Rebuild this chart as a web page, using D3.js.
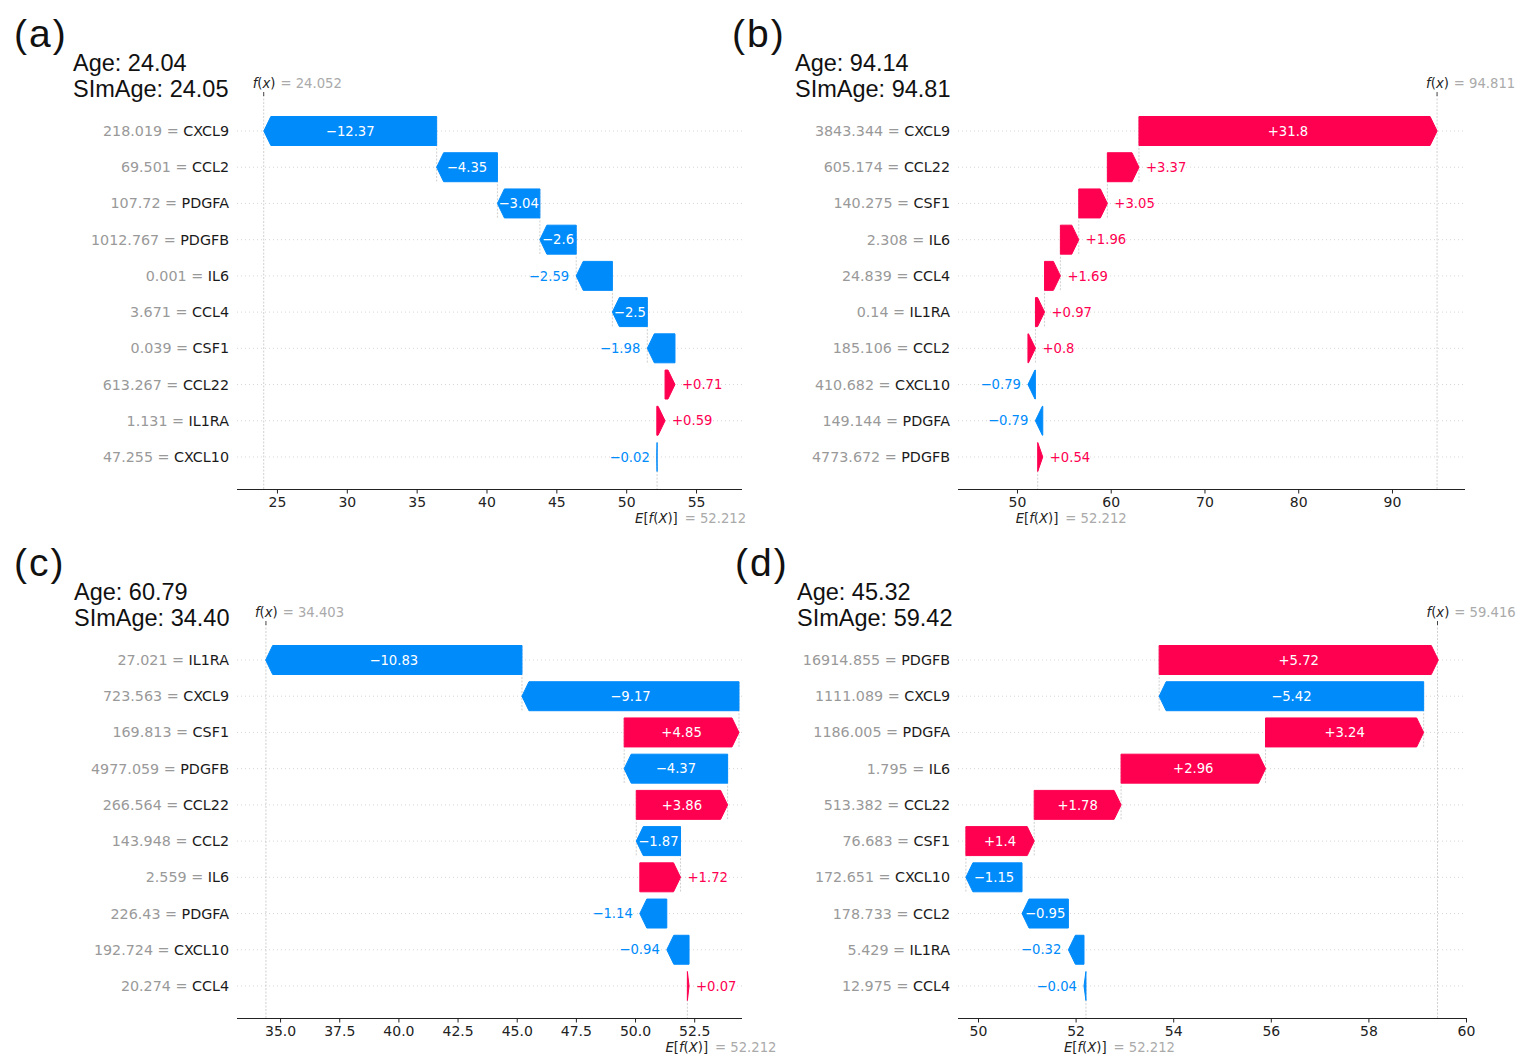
<!DOCTYPE html>
<html>
<head>
<meta charset="utf-8">
<script src="https://cdn.jsdelivr.net/npm/d3@7"></script>
<style>
  html, body { margin: 0; padding: 0; background: #fff; }
  svg { display: block; }
  .mono { font-family: "DejaVu Sans", sans-serif; }
  .title { font-family: "Liberation Sans", Arial, sans-serif; }
</style>
</head>
<body>
<svg id="chart" width="1517" height="1054"></svg>
<script>
// ---- data -------------------------------------------------------------
const baseValue = 52.212;

const panelLetters = ["(a)", "(b)", "(c)", "(d)"];
const ageLabels    = ["24.04", "94.14", "60.79", "45.32"];
const simAgeLabels = ["24.05", "94.81", "34.40", "59.42"];
const fxValues     = [24.052, 94.811, 34.403, 59.416];

// features listed top to bottom
const featuresA  = ["CXCL9", "CCL2", "PDGFA", "PDGFB", "IL6", "CCL4", "CSF1", "CCL22", "IL1RA", "CXCL10"];
const featValsA  = [218.019, 69.501, 107.72, 1012.767, 0.001, 3.671, 0.039, 613.267, 1.131, 47.255];
const shapA      = [-12.37, -4.35, -3.04, -2.6, -2.59, -2.5, -1.98, 0.71, 0.59, -0.02];

const featuresB  = ["CXCL9", "CCL22", "CSF1", "IL6", "CCL4", "IL1RA", "CCL2", "CXCL10", "PDGFA", "PDGFB"];
const featValsB  = [3843.344, 605.174, 140.275, 2.308, 24.839, 0.14, 185.106, 410.682, 149.144, 4773.672];
const shapB      = [31.8, 3.37, 3.05, 1.96, 1.69, 0.97, 0.8, -0.79, -0.79, 0.54];

const featuresC  = ["IL1RA", "CXCL9", "CSF1", "PDGFB", "CCL22", "CCL2", "IL6", "PDGFA", "CXCL10", "CCL4"];
const featValsC  = [27.021, 723.563, 169.813, 4977.059, 266.564, 143.948, 2.559, 226.43, 192.724, 20.274];
const shapC      = [-10.83, -9.17, 4.85, -4.37, 3.86, -1.87, 1.72, -1.14, -0.94, 0.07];

const featuresD  = ["PDGFB", "CXCL9", "PDGFA", "IL6", "CCL22", "CSF1", "CXCL10", "CCL2", "IL1RA", "CCL4"];
const featValsD  = [16914.855, 1111.089, 1186.005, 1.795, 513.382, 76.683, 172.651, 178.733, 5.429, 12.975];
const shapD      = [5.72, -5.42, 3.24, 2.96, 1.78, 1.4, -1.15, -0.95, -0.32, -0.04];

const ticksA = [25, 30, 35, 40, 45, 50, 55];
const ticksB = [50, 60, 70, 80, 90];
const ticksC = [35.0, 37.5, 40.0, 42.5, 45.0, 47.5, 50.0, 52.5];
const ticksD = [50, 52, 54, 56, 58, 60];

// ---- layout -------------------------------------------------------------
const POS = "#ff0051", NEG = "#008bfb";
const panels = [
  { feats: featuresA, fvals: featValsA, shap: shapA, ticks: ticksA, tickFmt: d3.format("d"),
    domain: [22.14, 58.29], left: 237, right: 742, dy: 0,   letterX: 14,  textX: 73 },
  { feats: featuresB, fvals: featValsB, shap: shapB, ticks: ticksB, tickFmt: d3.format("d"),
    domain: [43.71, 97.79], left: 958, right: 1465, dy: 0,  letterX: 732, textX: 795 },
  { feats: featuresC, fvals: featValsC, shap: shapC, ticks: ticksC, tickFmt: d3.format(".1f"),
    domain: [33.18, 54.52], left: 237, right: 742, dy: 529, letterX: 14,  textX: 74 },
  { feats: featuresD, fvals: featValsD, shap: shapD, ticks: ticksD, tickFmt: d3.format("d"),
    domain: [49.59, 60.0], left: 958, right: 1466, dy: 529, letterX: 735, textX: 797 }
];

const svg = d3.select("#chart");
const HEAD = 7;          // arrow head length in px
const ROW0 = 131, ROWSTEP = 36.22, AX_TOP = 95, AX_Y = 489;
const BAR_H = 0.8 * ROWSTEP;

function fmtShap(v) {
  let s = (v >= 0 ? "+" : "-") + Math.abs(v).toFixed(2);
  s = s.replace(/\.?0+$/, "");
  return s.replace("-", "\u2212");
}

panels.forEach((p, k) => {
  const g = svg.append("g").attr("transform", `translate(0,${p.dy})`);
  const n = p.feats.length;
  const x = d3.scaleLinear().domain(p.domain).range([p.left, p.right]);
  const y = d3.scaleLinear().domain([0, n - 1]).range([ROW0, ROW0 + (n - 1) * ROWSTEP]);
  const fx = fxValues[k];

  // headings
  g.append("text").attr("class", "title").attr("x", p.letterX).attr("y", 47)
    .attr("font-size", 39).attr("letter-spacing", 2).attr("fill", "#111").text(panelLetters[k]);
  g.append("text").attr("class", "title").attr("x", p.textX).attr("y", 71)
    .attr("font-size", 23.5).attr("fill", "#111").text("Age: " + ageLabels[k]);
  g.append("text").attr("class", "title").attr("x", p.textX).attr("y", 97)
    .attr("font-size", 23.5).attr("fill", "#111").text("SImAge: " + simAgeLabels[k]);

  // horizontal dotted guides
  g.selectAll("line.grid").data(p.feats).join("line").attr("class", "grid")
    .attr("x1", p.left).attr("x2", p.right)
    .attr("y1", (d, i) => y(i)).attr("y2", (d, i) => y(i))
    .attr("stroke", "#cccccc").attr("stroke-width", 0.8).attr("stroke-dasharray", "1,3");

  // cumulative positions, built from the bottom feature upward
  const bars = new Array(n);
  let loc = baseValue;
  for (let i = n - 1; i >= 0; i--) {
    const v = p.shap[i];
    bars[i] = { i, v, start: loc, end: loc + v };
    loc += v;
  }

  // f(x) and E[f(X)] reference lines
  g.append("line").attr("x1", x(fx)).attr("x2", x(fx)).attr("y1", AX_TOP).attr("y2", AX_Y)
    .attr("stroke", "#bbbbbb").attr("stroke-width", 0.7).attr("stroke-dasharray", "2,1.5");
  g.append("line").attr("x1", x(baseValue)).attr("x2", x(baseValue))
    .attr("y1", AX_Y - (AX_Y - AX_TOP) / n).attr("y2", AX_Y)
    .attr("stroke", "#bbbbbb").attr("stroke-width", 0.7).attr("stroke-dasharray", "2,1.5");

  // connectors at each bar's tail for the upper rows
  g.selectAll("line.conn").data(bars.filter(b => b.i + 4 < n)).join("line").attr("class", "conn")
    .attr("x1", b => x(b.start)).attr("x2", b => x(b.start))
    .attr("y1", b => y(b.i) - 0.4 * ROWSTEP).attr("y2", b => y(b.i + 1) + 0.4 * ROWSTEP)
    .attr("stroke", "#bbbbbb").attr("stroke-width", 0.7).attr("stroke-dasharray", "2,1.5");

  // arrows
  const arrowPath = b => {
    const x0 = x(b.start), x1 = x(b.end);
    const dir = b.v >= 0 ? 1 : -1;
    const w = Math.abs(x1 - x0);
    const hl = Math.min(HEAD, w);
    const yc = y(b.i), t = yc - BAR_H / 2, bt = yc + BAR_H / 2;
    const xn = x1 - dir * hl;
    return `M${x0},${t}L${xn},${t}L${x1},${yc}L${xn},${bt}L${x0},${bt}Z`;
  };
  g.selectAll("path.bar").data(bars).join("path").attr("class", "bar")
    .attr("d", arrowPath)
    .attr("fill", b => b.v >= 0 ? POS : NEG)
    .attr("stroke", b => b.v >= 0 ? POS : NEG)
    .attr("stroke-width", 1).attr("stroke-linejoin", "miter");

  // value labels: inside if they fit, else past the tip
  bars.forEach(b => {
    const x0 = x(b.start), x1 = x(b.end);
    const w = Math.abs(x1 - x0);
    const col = b.v >= 0 ? POS : NEG;
    const t = g.append("text").attr("class", "mono").attr("font-size", 13.2)
      .attr("y", y(b.i)).attr("dy", "0.35em").text(fmtShap(b.v));
    const tw = t.node().getComputedTextLength();
    if (tw + 2 < w) {
      t.attr("x", (x0 + x1) / 2).attr("text-anchor", "middle").attr("fill", "#fff");
    } else if (b.v >= 0) {
      t.attr("x", x1 + 7).attr("text-anchor", "start").attr("fill", col);
    } else {
      t.attr("x", x1 - 7).attr("text-anchor", "end").attr("fill", col);
    }
  });

  // feature labels
  p.feats.forEach((f, i) => {
    const t = g.append("text").attr("class", "mono").attr("font-size", 14.3)
      .attr("x", p.left - 8).attr("y", y(i)).attr("dy", "0.35em").attr("text-anchor", "end");
    t.append("tspan").attr("fill", "#999999").text(String(p.fvals[i]) + " = ");
    t.append("tspan").attr("fill", "#1a1a1a").text(f);
  });

  // bottom axis
  const axis = d3.axisBottom(x).tickValues(p.ticks).tickFormat(p.tickFmt)
    .tickSize(4.5).tickSizeOuter(0).tickPadding(4);
  const ax = g.append("g").attr("transform", `translate(0,${AX_Y})`).call(axis);
  ax.select(".domain").attr("stroke", "#222").attr("stroke-width", 1.2)
    .attr("d", `M${p.left},0.5H${p.right}`);
  ax.selectAll(".tick line").attr("stroke", "#222");
  ax.selectAll(".tick text").attr("class", "mono").attr("font-size", 14).attr("fill", "#222");

  // f(x) marker and label on top
  g.append("line").attr("x1", x(fx)).attr("x2", x(fx)).attr("y1", AX_TOP - 3).attr("y2", AX_TOP + 1)
    .attr("stroke", "#444").attr("stroke-width", 1);
  const ft = g.append("text").attr("class", "mono").attr("font-size", 13.2)
    .attr("x", x(fx) - 11).attr("y", 88);
  ft.append("tspan").attr("font-style", "italic").attr("fill", "#222").text("f");
  ft.append("tspan").attr("fill", "#222").text("(");
  ft.append("tspan").attr("font-style", "italic").attr("fill", "#222").text("x");
  ft.append("tspan").attr("fill", "#222").text(")");
  ft.append("tspan").attr("fill", "#aaaaaa").attr("dx", 5).text("= " + fx.toFixed(3));

  // E[f(X)] label under the axis
  const et = g.append("text").attr("class", "mono").attr("font-size", 13.2)
    .attr("x", x(baseValue) - 22).attr("y", 523);
  et.append("tspan").attr("font-style", "italic").attr("fill", "#222").text("E");
  et.append("tspan").attr("fill", "#222").text("[");
  et.append("tspan").attr("font-style", "italic").attr("fill", "#222").text("f");
  et.append("tspan").attr("fill", "#222").text("(");
  et.append("tspan").attr("font-style", "italic").attr("fill", "#222").text("X");
  et.append("tspan").attr("fill", "#222").text(")]");
  et.append("tspan").attr("fill", "#aaaaaa").attr("dx", 7).text("= " + baseValue.toFixed(3));
});
</script>
</body>
</html>
